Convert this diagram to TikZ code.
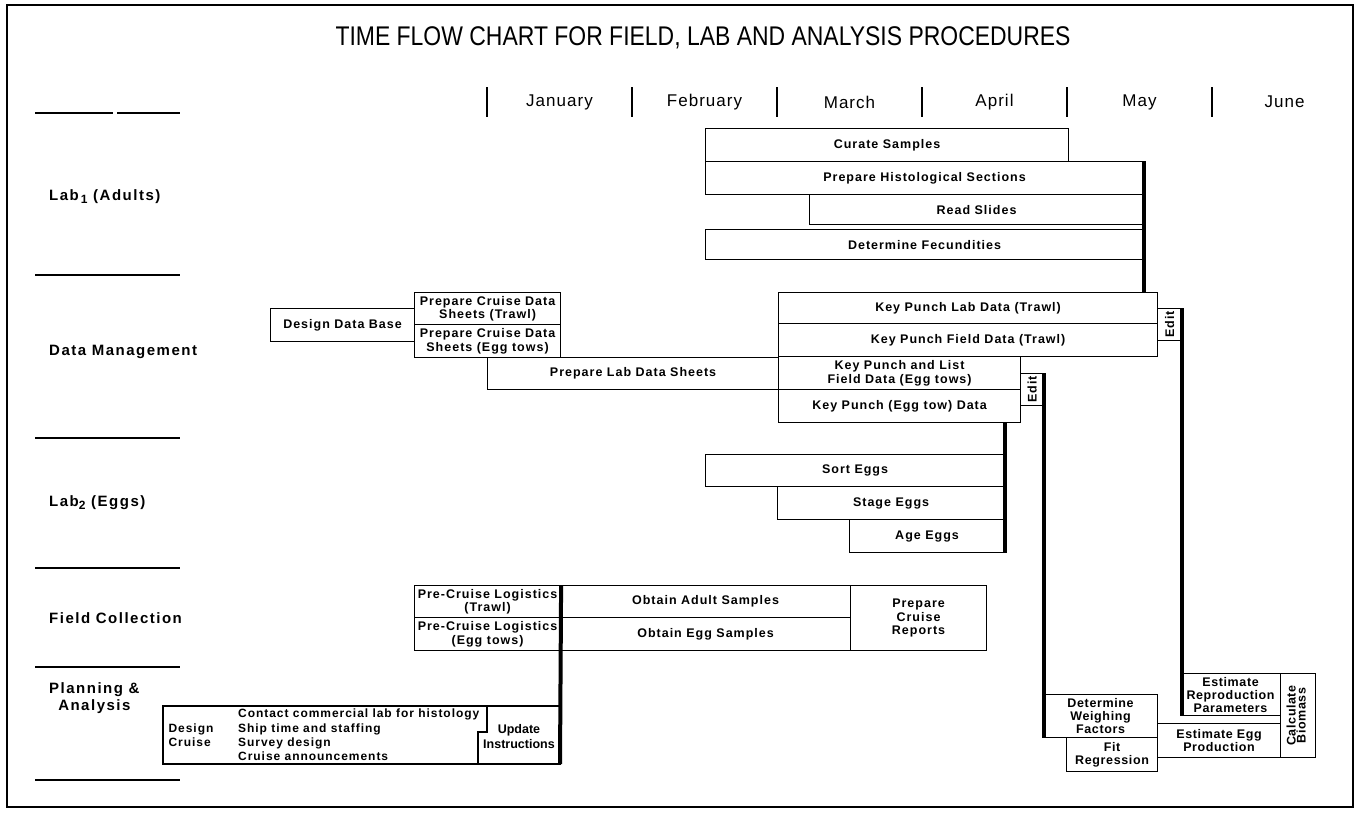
\documentclass[tikz,border=0pt]{standalone}
\usepackage{fontspec}
\setmainfont{Liberation Sans}
\newfontfamily\boxfont[LetterSpace=8]{Liberation Sans}
\newfontfamily\rowfont[LetterSpace=10]{Liberation Sans}
\newfontfamily\anafont[LetterSpace=5]{Liberation Sans}
\newfontfamily\monthfont[LetterSpace=6]{Liberation Sans}
\newfontfamily\titlefont[FakeStretch=0.85]{Liberation Sans}
\usetikzlibrary{calc}

\begin{document}
\begin{tikzpicture}[x=1pt,y=-1pt,
  task/.style={draw,line width=1.1pt,inner sep=0pt,anchor=north west,align=center,
    font=\boxfont\bfseries\fontsize{12.5}{13.5}\selectfont},
  anatask/.style={task,font=\anafont\bfseries\fontsize{12.5}{13}\selectfont},
  cruisetext/.style={inner sep=0pt,align=left,font=\boxfont\bfseries\fontsize{12}{14.3}\selectfont},
  rowname/.style={anchor=west,inner sep=0pt,align=center,font=\rowfont\bfseries\fontsize{15}{17}\selectfont},
  monthname/.style={font=\monthfont\fontsize{17}{19}\selectfont},
  bar/.style={line width=4pt},
  rowrule/.style={line width=1.1pt}]
\useasboundingbox (0,0) rectangle (1359,812);
\draw[line width=1.5pt] (7,5) rectangle (1353,807);

\node[font=\titlefont\fontsize{27}{30}\selectfont] (title) at (703,38)
  {TIME FLOW CHART FOR FIELD, LAB AND ANALYSIS PROCEDURES};

\foreach \m [count=\i] in {January,February,March,April,May,June} {
  \node[monthname] (month\i) at ({487+145*(\i-1)+72.5},102) {\m};
  \draw[rowrule] ({487+145*(\i-1)},87) -- ++(0,30);
}

\draw[rowrule] (35,113) -- (113,113);
\draw[rowrule] (117,113) -- (180,113);
\foreach \y in {275,438,568,667,780}
  \draw[rowrule] (35,\y) -- (180,\y);

\node[rowname] (lab1) at (49,197) {Lab\kern2pt\raisebox{-3pt}{\fontsize{12}{12}\selectfont 1} (Adults)};
\node[rowname] (datam) at (49,352) {Data Management};
\node[rowname] (lab2) at (49,503) {Lab\raisebox{-3pt}{\fontsize{12}{12}\selectfont 2} (Eggs)};
\node[rowname] (fieldc) at (49,618) {Field Collection};
\node[rowname] (plan) at (49,698) {Planning \&\\Analysis};

\node[task,minimum width=363pt,minimum height=33pt] (cur) at (705,128) {Curate Samples};
\node[task,minimum width=438pt,minimum height=33pt] (hist) at (705,161) {Prepare Histological Sections};
\node[task,minimum width=334pt,minimum height=30pt] (read) at (809,194) {Read Slides};
\node[task,minimum width=438pt,minimum height=30pt] (fec) at (705,229) {Determine Fecundities};

\node[task,minimum width=144pt,minimum height=33pt] (ddb) at (270,308) {Design Data Base};
\node[task,minimum width=146pt,minimum height=32pt] (pcdt) at (414,292) {Prepare Cruise Data\\Sheets (Trawl)};
\node[task,minimum width=146pt,minimum height=33pt] (pcde) at (414,324) {Prepare Cruise Data\\Sheets (Egg tows)};
\node[task,minimum width=291pt,minimum height=32pt] (pld) at (487,357) {Prepare Lab Data Sheets};
\node[task,minimum width=379pt,minimum height=31pt] (kplab) at (778,292) {Key Punch Lab Data (Trawl)};
\node[task,minimum width=379pt,minimum height=33pt] (kpfield) at (778,323) {Key Punch Field Data (Trawl)};
\node[task,minimum width=242pt,minimum height=33pt] (kplist) at (778,356) {Key Punch and List\\Field Data (Egg tows)};
\node[task,minimum width=242pt,minimum height=33pt] (kpegg) at (778,389) {Key Punch (Egg tow) Data};
\node[task,minimum width=24pt,minimum height=32pt] (edita) at (1157,308) {\rotatebox{90}{Edit}};
\node[task,minimum width=23pt,minimum height=32pt] (editb) at (1020,373) {\rotatebox{90}{Edit}};

\node[task,minimum width=299pt,minimum height=32pt] (sort) at (705,454) {Sort Eggs};
\node[task,minimum width=227pt,minimum height=33pt] (stage) at (777,486) {Stage Eggs};
\node[task,minimum width=155pt,minimum height=33pt] (age) at (849,519) {Age Eggs};

\node[task,minimum width=146pt,minimum height=32pt] (pclt) at (414,585) {Pre-Cruise Logistics\\(Trawl)};
\node[task,minimum width=146pt,minimum height=33pt] (pcle) at (414,617) {Pre-Cruise Logistics\\(Egg tows)};
\node[task,minimum width=290pt,minimum height=32pt] (oas) at (560,585) {Obtain Adult Samples};
\node[task,minimum width=290pt,minimum height=33pt] (oes) at (560,617) {Obtain Egg Samples};
\node[task,minimum width=136pt,minimum height=65pt] (pcr) at (850,585) {Prepare\\Cruise\\Reports};

\draw[line width=1.1pt] (163,706) coordinate (dcnw) -- (487,706) -- (487,732) -- (478,732)
  -- (478,764) -- (163,764) -- cycle;
\draw[line width=1.1pt] (487,706) -- (560,706) -- (560,764) coordinate (updse) -- (478,764);
\node[cruisetext] (dcname) at (191,735) {Design\\Cruise};
\node[cruisetext,anchor=west] (dclist) at (238,735)
  {Contact commercial lab for histology\\Ship time and staffing\\Survey design\\Cruise announcements};
\node[cruisetext,align=center,font=\bfseries\fontsize{12.5}{15}\selectfont] (upd) at (519,737) {Update\\Instructions};

\node[anatask,minimum width=114pt,minimum height=43pt] (weigh) at (1043,694) {Determine\\Weighing\\Factors};
\node[anatask,minimum width=91pt,minimum height=34pt] (fit) at (1066,737) {Fit\\Regression};
\node[anatask,minimum width=123pt,minimum height=34pt] (eggprod) at (1157,723) {Estimate Egg\\Production};
\node[anatask,minimum width=100pt,minimum height=42pt] (repro) at (1180,673) {Estimate\\Reproduction\\Parameters};
\node[anatask,minimum width=35pt,minimum height=84pt] (biom) at (1280,673)
  {\rotatebox{90}{\begin{tabular}{@{}c@{}}Calculate\\[-3pt]Biomass\end{tabular}}};

\draw[bar] (hist.north east) -- (hist.north east |- kplab.north);
\draw[bar] (edita.north east) -- (edita.north east |- repro.south);
\draw[bar] (editb.north east) -- (editb.north east |- weigh.south);
\draw[bar] (sort.north east |- kpegg.south) -- (age.south east);
\draw[bar] (pclt.north east) -- (updse);
\end{tikzpicture}
\end{document}
